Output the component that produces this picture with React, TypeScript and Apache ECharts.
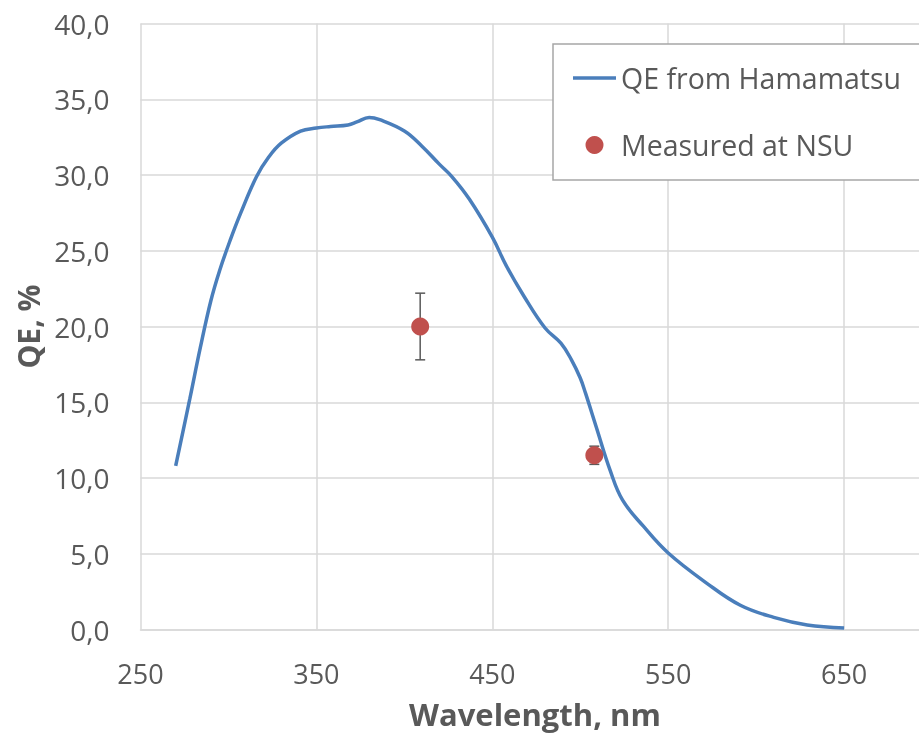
import React, { useEffect, useRef } from "react";
import * as echarts from "echarts";

const wavelengths = [270, 278, 284, 290, 295, 301, 307, 316, 323, 330, 341, 350, 358, 368, 373, 380, 386, 400, 410, 420, 427, 437, 450, 458, 468, 480, 489, 495, 500, 503, 509, 517, 524, 536, 550, 572, 591, 610, 629, 650];
const qeHamamatsu = [10.8, 15.2, 18.6, 21.7, 23.7, 25.7, 27.5, 29.9, 31.2, 32.1, 32.9, 33.1, 33.2, 33.3, 33.5, 33.8, 33.65, 32.9, 31.9, 30.7, 29.9, 28.4, 25.9, 24.0, 22.0, 19.9, 18.9, 17.8, 16.6, 15.6, 13.4, 10.5, 8.55, 6.8, 5.05, 3.05, 1.6, 0.8, 0.3, 0.1];

const measuredWl = [409, 508];
const measuredQe = [20.0, 11.5];
const measuredErr = [2.2, 0.6];

const xTicks = { min: 250, max: 750, interval: 100, lastShown: 650 };
const yTicks = { min: 0, max: 40, interval: 5 };

const FONT = "'Open Sans', 'Noto Sans', sans-serif";
const TEXT = "#595959";
const GRID = "#d9d9d9";

export default function App() {
  const ref = useRef<HTMLDivElement>(null);
  useEffect(() => {
    document.body.style.margin = "0";
    document.documentElement.style.overflow = "hidden";
    document.body.style.overflow = "hidden";
    const chart = echarts.init(ref.current!, null, { renderer: "svg", width: 1020, height: 734 });
    const lineData = wavelengths.map((w, i) => [w, qeHamamatsu[i]]);
    const scatterData = measuredWl.map((w, i) => [w, measuredQe[i]]);
    const errData = measuredWl.map((w, i) => [w, measuredQe[i] - measuredErr[i], measuredQe[i] + measuredErr[i]]);
    chart.setOption({
      animation: false,
      textStyle: { fontFamily: FONT },
      grid: { left: 140.5, top: 23.5, right: 0, bottom: 104.5, containLabel: false },
      xAxis: {
        type: "value",
        min: xTicks.min,
        max: xTicks.max,
        interval: xTicks.interval,
        axisLine: { show: true, lineStyle: { color: GRID, width: 1.5 } },
        axisTick: { show: false },
        splitLine: { show: true, lineStyle: { color: GRID, width: 1.5 } },
        axisLabel: {
          color: TEXT,
          fontSize: 27,
          fontFamily: FONT,
          margin: 30,
          showMaxLabel: false,
          formatter: (v: number) => (v > xTicks.lastShown ? "" : String(v)),
        },
      },
      yAxis: {
        type: "value",
        min: yTicks.min,
        max: yTicks.max,
        interval: yTicks.interval,
        name: "QE, %",
        nameLocation: "middle",
        nameGap: 97,
        nameTextStyle: { color: TEXT, fontSize: 30, fontWeight: "bold", fontFamily: FONT },
        axisLine: { show: false },
        axisTick: { show: false },
        splitLine: { show: true, lineStyle: { color: GRID, width: 1.5 } },
        axisLabel: {
          color: TEXT,
          fontSize: 28,
          fontFamily: FONT,
          margin: 31,
          formatter: (v: number) => v.toFixed(1).replace(".", ","),
        },
      },
      legend: {
        orient: "vertical",
        left: 553,
        top: 44,
        data: [
          { name: "QE from Hamamatsu", icon: "path://M0,0 L43,0 L43,3.5 L0,3.5 Z" },
          { name: "Measured at NSU", icon: "circle" },
        ],
        backgroundColor: "#ffffff",
        borderColor: "#a6a6a6",
        borderWidth: 1.5,
        padding: [19, 30, 20, 20],
        itemWidth: 43,
        itemHeight: 18,
        itemGap: 37,
        textStyle: { color: TEXT, fontSize: 28.5, fontFamily: FONT, lineHeight: 30 },
      },
      graphic: [
        {
          type: "text",
          left: 535 - 126,
          top: 717 - 19,
          style: {
            text: "Wavelength, nm",
            fill: TEXT,
            font: `bold 31px ${FONT}`,
          },
        },
      ],
      series: [
        {
          name: "QE from Hamamatsu",
          type: "line",
          data: lineData,
          smooth: 0.4,
          symbol: "none",
          lineStyle: { color: "#4a7ebb", width: 3.5 },
          itemStyle: { color: "#4a7ebb" },
          z: 2,
        },
        {
          name: "errors",
          type: "custom",
          data: errData,
          z: 3,
          renderItem: (params: any, api: any) => {
            const x = api.value(0);
            const lo = api.value(1);
            const hi = api.value(2);
            const pTop = api.coord([x, hi]);
            const pBot = api.coord([x, lo]);
            const style = { stroke: "#595959", lineWidth: 1.5 };
            return {
              type: "group",
              children: [
                { type: "line", shape: { x1: pTop[0], y1: pTop[1], x2: pBot[0], y2: pBot[1] }, style },
                { type: "line", shape: { x1: pTop[0] - 5, y1: pTop[1], x2: pTop[0] + 5, y2: pTop[1] }, style },
                { type: "line", shape: { x1: pBot[0] - 5, y1: pBot[1], x2: pBot[0] + 5, y2: pBot[1] }, style },
              ],
            };
          },
        },
        {
          name: "Measured at NSU",
          type: "scatter",
          data: scatterData,
          symbol: "circle",
          symbolSize: 18,
          itemStyle: { color: "#c0504d", opacity: 1 },
          z: 4,
        },
      ],
    });
    return () => chart.dispose();
  }, []);
  return <div ref={ref} style={{ width: 1020, height: 734, position: "fixed", left: 0, top: 0 }} />;
}
